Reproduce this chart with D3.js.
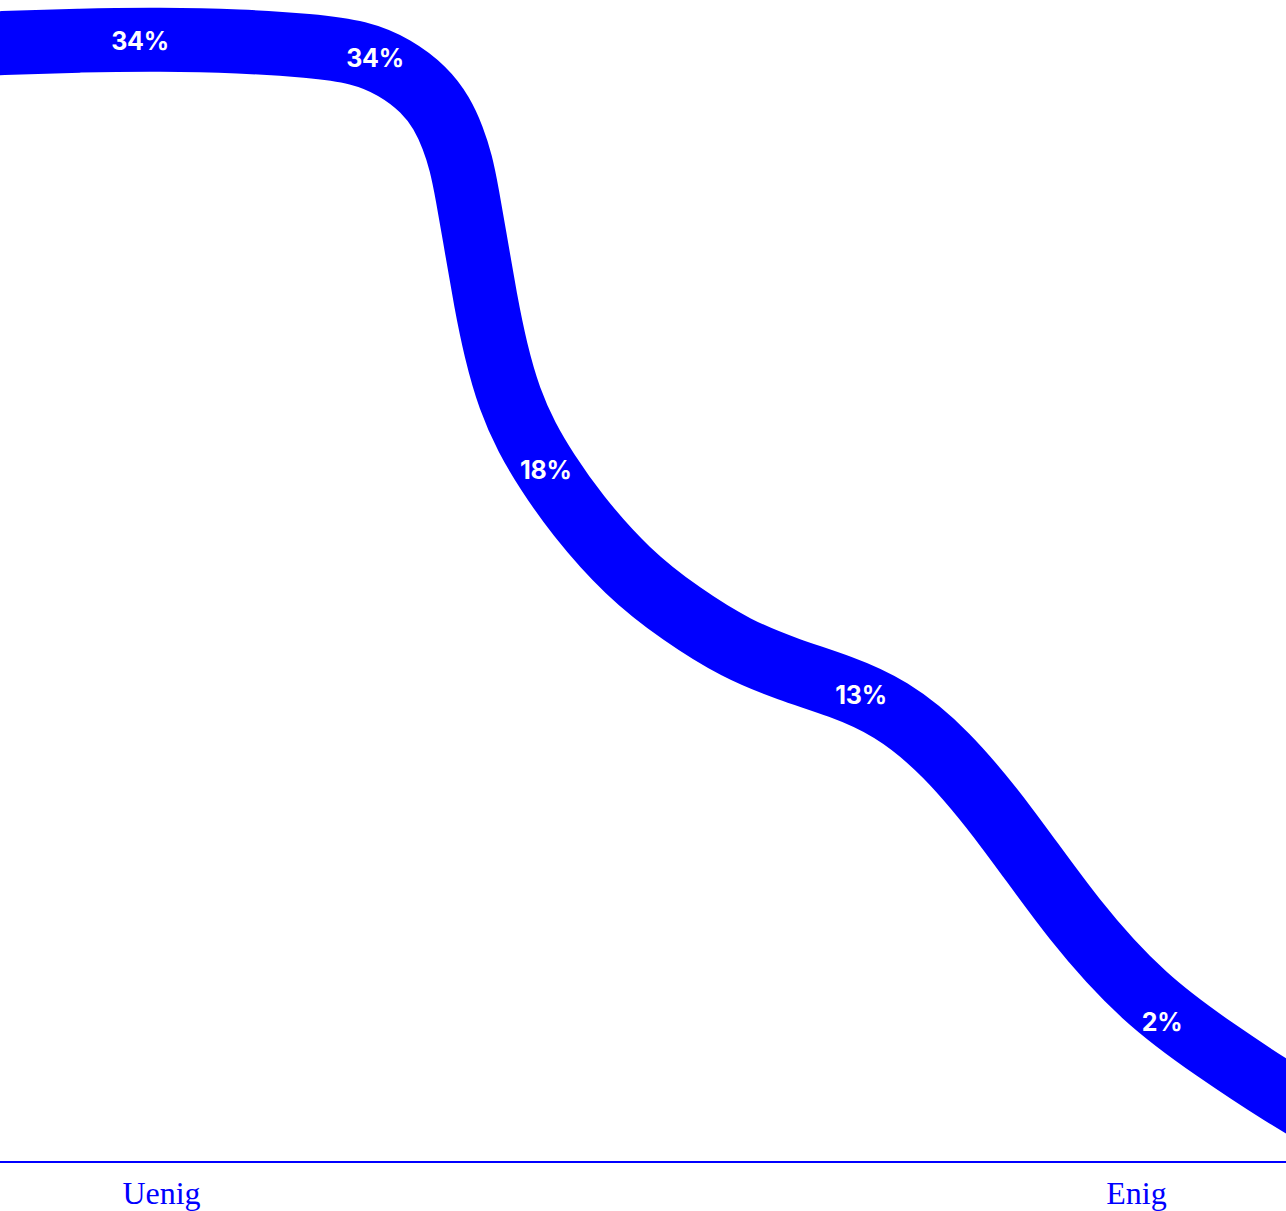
<!DOCTYPE html>
<html>
<head>
<meta charset="utf-8">
<script src="https://cdn.jsdelivr.net/npm/d3@7"></script>
<style>
  html, body { margin: 0; padding: 0; background: #ffffff; overflow: hidden; }
  svg { display: block; }
</style>
</head>
<body>
<svg id="chart"></svg>
<script>
// ---------------- data ----------------
// answer shares, from the "Uenig" end to the "Enig" end
const shares = [34, 34, 18, 13, 2];
// end labels of the agreement scale and their position on it
const scaleEndLabels = ["Uenig", "Enig"];
const scaleEndValues = [1, 5];
// ribbon profile:
// position on the agreement scale (1 = Uenig, 5 = Enig) ...
const profileX = [0.093, 0.339, 0.668, 0.996, 1.324, 1.611, 1.816, 1.960, 2.081, 2.153,
                  2.198, 2.231, 2.255, 2.296, 2.331, 2.372, 2.430, 2.501, 2.579, 2.701,
                  2.914, 3.137, 3.361, 3.576, 3.786, 3.991, 4.216, 4.471, 4.746, 5.037,
                  5.324, 5.603, 5.837];
// ... and height in percent
const profileY = [33.88, 33.97, 34.05, 34.08, 34.03, 33.89, 33.70, 33.24, 32.56, 31.84,
                  31.09, 30.33, 29.45, 27.69, 26.17, 24.65, 23.13, 21.98, 21.01, 19.69,
                  17.88, 16.61, 15.57, 14.94, 14.45, 13.81, 12.49, 10.20, 7.29, 4.92,
                  3.40, 2.03, 1.03];

// ---------------- layout ----------------
const W = 1286, H = 1211;
const BLUE = "#0000ff";
const labelAt = [0.914, 1.878, 2.579, 3.872, 5.107]; // where each share label sits along the scale
const labelShift = [1, -1, 1, 0, 12];                // small vertical nudges (px)

const svg = d3.select("#chart").attr("width", W).attr("height", H);

const x = d3.scaleLinear().domain([1, 5]).range([161, 1136]);
const y = d3.scaleLinear().domain([0, 34]).range([1162, 42]);

const profile = profileX.map((v, i) => [v, profileY[i]]);

const line = d3.line()
  .x(d => x(d[0]))
  .y(d => y(d[1]))
  .curve(d3.curveBasis);

const ribbon = svg.append("path")
  .datum(profile)
  .attr("d", line)
  .attr("fill", "none")
  .attr("stroke", BLUE)
  .attr("stroke-width", 64)
  .attr("stroke-linecap", "butt")
  .attr("stroke-linejoin", "round");

// point on the ribbon at a given horizontal pixel position
const node = ribbon.node();
const total = node.getTotalLength();
function pointAtX(px) {
  let lo = 0, hi = total;
  for (let k = 0; k < 40; k++) {
    const mid = (lo + hi) / 2;
    if (node.getPointAtLength(mid).x < px) lo = mid; else hi = mid;
  }
  return node.getPointAtLength((lo + hi) / 2);
}

svg.append("g")
  .selectAll("text")
  .data(shares)
  .join("text")
  .each(function (d, i) {
    const p = pointAtX(x(labelAt[i]));
    d3.select(this).attr("x", p.x).attr("y", p.y + labelShift[i]);
  })
  .attr("text-anchor", "middle")
  .attr("dy", "0.35em")
  .attr("fill", "#ffffff")
  .attr("font-family", "Inter, 'Noto Sans', sans-serif")
  .attr("font-weight", 700)
  .attr("font-size", 25)
  .attr("letter-spacing", -0.3)
  .text(d => d + "%");

// axis
svg.append("line")
  .attr("x1", 0).attr("x2", W)
  .attr("y1", y(0)).attr("y2", y(0))
  .attr("stroke", BLUE)
  .attr("stroke-width", 2);

const axis = d3.axisBottom(x)
  .tickValues(scaleEndValues)
  .tickFormat((d, i) => scaleEndLabels[i])
  .tickSize(0)
  .tickPadding(0);

const axisG = svg.append("g")
  .attr("transform", `translate(0,${y(0)})`)
  .call(axis);
axisG.select(".domain").remove();
axisG.selectAll("text")
  .attr("y", 42)
  .attr("dy", null)
  .attr("fill", BLUE)
  .attr("font-family", "'Liberation Serif', 'DejaVu Serif', serif")
  .attr("font-size", 32);
</script>
</body>
</html>
